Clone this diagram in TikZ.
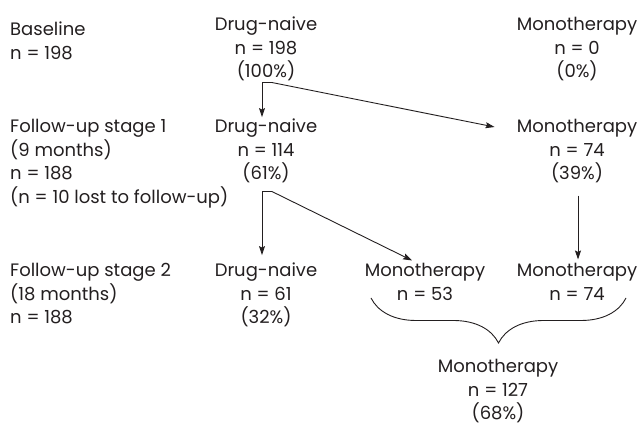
\documentclass[tikz,border=0pt]{standalone}
\usepackage{fontspec}
\setmainfont{Poppins}
\usetikzlibrary{arrows.meta,calc,decorations.pathreplacing}
\definecolor{ink}{HTML}{231F20}
\tikzset{
  box/.style={align=center,inner sep=0pt,anchor=base,text=ink},
  lbl/.style={align=left,inner sep=0pt,anchor=base west,text=ink},
  flow/.style={draw=ink,line width=0.9pt,-{Stealth[length=9pt,width=6pt,inset=1.5pt]}},
}

\begin{document}
\begin{tikzpicture}[x=1pt,y=1pt,font=\fontsize{18}{23.5}\selectfont]
\useasboundingbox (0,0) rectangle (639,430);
% stage labels (placed at the baseline of their last line)
\node[lbl] (base) at (10,370.5) {Baseline\\n = 198};
\node[lbl] (stA) at (10,226.5) {Follow-up stage 1\\(9 months)\\n = 188\\(n = 10 lost to follow-up)};
\node[lbl] (stB) at (10,106) {Follow-up stage 2\\(18 months)\\n = 188};
% groups
\node[box] (dn0) at (266,352) {Drug-naive\\n = 198\\(100\%)};
\node[box] (mt0) at (577,352) {Monotherapy\\n = 0\\(0\%)};
\node[box] (dn1) at (266,250) {Drug-naive\\n = 114\\(61\%)};
\node[box] (mt1) at (577,250) {Monotherapy\\n = 74\\(39\%)};
\node[box] (dn2) at (266,106) {Drug-naive\\n = 61\\(32\%)};
\node[box] (mtA) at (425,129.5) {Monotherapy\\n = 53};
\node[box] (mtB) at (577,129.5) {Monotherapy\\n = 74};
\node[box] (mtC) at (498,10) {Monotherapy\\n = 127\\(68\%)};
% arrows
\coordinate (k0) at ([xshift=6pt,yshift=-1pt]dn0.south);
\draw[flow] (k0) -| ([xshift=-4pt,yshift=2pt]dn1.north);
\draw[flow] (k0) -- ($(mt1.base west)+(-22,53)$);
\coordinate (k1) at ([xshift=6pt,yshift=-8pt]dn1.south);
\draw[flow] (k1) -| ([xshift=-4pt,yshift=8pt]dn2.north);
\draw[flow] (k1) -- ([xshift=-13pt,yshift=3pt]mtA.north);
\draw[flow] ([xshift=1pt,yshift=-12pt]mt1.south) -- ([xshift=1pt,yshift=4pt]mtB.north);
% brace
\coordinate (bl) at (371,132);
\coordinate (br) at (626,132);
\draw[ink,line width=0.9pt,decorate,decoration={brace,amplitude=45pt,mirror}] (bl) -- (br);
\end{tikzpicture}
\end{document}
